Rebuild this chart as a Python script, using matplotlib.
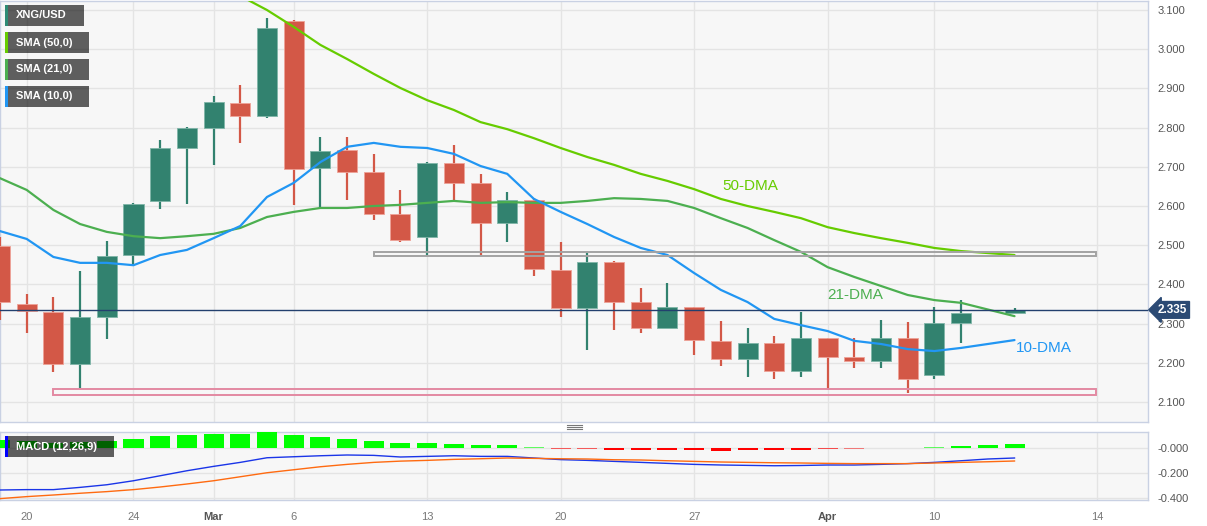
import numpy as np
import matplotlib
matplotlib.use("Agg")
import matplotlib.pyplot as plt
from matplotlib.patches import Rectangle
from matplotlib.lines import Line2D

plt.rcParams['font.family'] = ['Liberation Sans', 'DejaVu Sans']

# trading days (Apr 7 closed), candle for Apr 12 missing on the chart
dates = ['Feb 17', 'Feb 20', 'Feb 21', 'Feb 22', 'Feb 23', 'Feb 24', 'Feb 27', 'Feb 28',
         'Mar 1', 'Mar 2', 'Mar 3', 'Mar 6', 'Mar 7', 'Mar 8', 'Mar 9', 'Mar 10',
         'Mar 13', 'Mar 14', 'Mar 15', 'Mar 16', 'Mar 17', 'Mar 20', 'Mar 21', 'Mar 22',
         'Mar 23', 'Mar 24', 'Mar 27', 'Mar 28', 'Mar 29', 'Mar 30', 'Mar 31',
         'Apr 3', 'Apr 4', 'Apr 5', 'Apr 6', 'Apr 10', 'Apr 11', 'Apr 12', 'Apr 13']

opens = [2.498, 2.350, 2.330, 2.197, 2.317, 2.475, 2.613, 2.748, 2.799, 2.863, 2.829, 3.072,
         2.696, 2.743, 2.687, 2.580, 2.521, 2.710, 2.659, 2.557, 2.615, 2.437, 2.340, 2.457,
         2.355, 2.289, 2.342, 2.256, 2.210, 2.251, 2.179, 2.263, 2.215, 2.205, 2.263, 2.169,
         2.302, None, 2.327]
highs = [2.521, 2.376, 2.368, 2.434, 2.511, 2.608, 2.768, 2.802, 2.881, 2.909, 3.080, 3.075,
         2.776, 2.776, 2.733, 2.641, 2.712, 2.756, 2.682, 2.636, 2.620, 2.508, 2.480, 2.460,
         2.391, 2.404, 2.342, 2.307, 2.289, 2.268, 2.330, 2.263, 2.263, 2.309, 2.304, 2.342,
         2.360, None, 2.340]
lows = [2.309, 2.276, 2.177, 2.136, 2.261, 2.449, 2.592, 2.605, 2.705, 2.760, 2.824, 2.603,
        2.595, 2.615, 2.564, 2.508, 2.475, 2.615, 2.475, 2.508, 2.421, 2.317, 2.233, 2.284,
        2.276, 2.289, 2.220, 2.192, 2.164, 2.159, 2.164, 2.131, 2.187, 2.187, 2.123, 2.159,
        2.251, None, 2.327]
closes = [2.355, 2.332, 2.197, 2.317, 2.472, 2.605, 2.748, 2.799, 2.865, 2.829, 3.054, 2.694,
          2.740, 2.687, 2.580, 2.513, 2.710, 2.659, 2.557, 2.615, 2.439, 2.340, 2.457, 2.355,
          2.289, 2.342, 2.258, 2.210, 2.251, 2.179, 2.263, 2.215, 2.205, 2.263, 2.159, 2.302,
          2.327, None, 2.335]

sma50 = [None] * 8 + [3.171, 3.136, 3.100, 3.057, 3.011, 2.975, 2.937, 2.901, 2.870, 2.845,
                      2.814, 2.796, 2.773, 2.748, 2.725, 2.705, 2.682, 2.664, 2.643, 2.618,
                      2.600, 2.585, 2.569, 2.546, 2.531, 2.518, 2.506, 2.493, 2.485, None, 2.475]
sma21 = [2.671, 2.641, 2.590, 2.554, 2.534, 2.523, 2.518, 2.523, 2.529, 2.544, 2.572, 2.585,
         2.595, 2.595, 2.600, 2.603, 2.608, 2.613, 2.608, 2.610, 2.608, 2.608, 2.613, 2.620,
         2.618, 2.613, 2.595, 2.569, 2.544, 2.513, 2.483, 2.444, 2.419, 2.396, 2.373, 2.360,
         2.353, None, 2.319]
sma10 = [2.536, 2.516, 2.470, 2.455, 2.455, 2.449, 2.475, 2.488, 2.518, 2.549, 2.623, 2.659,
         2.712, 2.751, 2.761, 2.751, 2.748, 2.733, 2.702, 2.682, 2.618, 2.585, 2.554, 2.521,
         2.493, 2.475, 2.429, 2.386, 2.355, 2.312, 2.296, 2.281, 2.256, 2.248, 2.235, 2.230,
         2.238, None, 2.258]

macd_hist = [0.066, 0.055, 0.043, 0.047, 0.053, 0.072, 0.093, 0.104, 0.115, 0.115, 0.125,
             0.104, 0.091, 0.075, 0.056, 0.040, 0.040, 0.035, 0.027, 0.021, 0.009, -0.009,
             -0.009, -0.016, -0.019, -0.019, -0.019, -0.026, -0.019, -0.019, -0.016, -0.010,
             -0.007, -0.002, -0.002, 0.009, 0.018, 0.024, 0.030]
macd_line = [-0.336, -0.333, -0.333, -0.315, -0.294, -0.262, -0.222, -0.182, -0.147, -0.115,
             -0.078, -0.070, -0.062, -0.056, -0.059, -0.072, -0.067, -0.062, -0.067, -0.067,
             -0.080, -0.093, -0.099, -0.107, -0.115, -0.123, -0.131, -0.136, -0.139, -0.142,
             -0.140, -0.136, -0.136, -0.131, -0.125, -0.115, -0.102, -0.088, -0.080]
signal_line = [-0.405, -0.389, -0.376, -0.362, -0.349, -0.333, -0.312, -0.288, -0.262, -0.230,
               -0.198, -0.174, -0.150, -0.131, -0.115, -0.105, -0.099, -0.091, -0.086, -0.080,
               -0.083, -0.086, -0.088, -0.094, -0.096, -0.102, -0.107, -0.112, -0.115, -0.118,
               -0.120, -0.123, -0.125, -0.125, -0.125, -0.120, -0.115, -0.110, -0.104]

last_price = 2.335
resistance_zone = (2.4735, 2.4835)
resistance_from = 'Mar 9'
support_zone = (2.119, 2.134)
support_from = 'Feb 21'
zone_end = 41.05

tick_pos = [1, 5, 8, 11, 16, 21, 26, 31, 35, 41.1]
tick_labels = ['20', '24', 'Mar', '6', '13', '20', '27', 'Apr', '10', '14']
price_ticks = [2.1, 2.2, 2.3, 2.4, 2.5, 2.6, 2.7, 2.8, 2.9, 3.0, 3.1]

GREEN = '#32826f'
RED = '#d35847'
GRID = '#e4e4e4'
SPINE = '#c9d1e3'
W, H = 1207, 526

x = np.arange(len(dates))
o = np.array(opens, dtype=float)
h = np.array(highs, dtype=float)
l = np.array(lows, dtype=float)
c = np.array(closes, dtype=float)
ok = ~np.isnan(o)

fig = plt.figure(figsize=(W / 100, H / 100), dpi=100)
fig.patch.set_facecolor('white')
ax = fig.add_axes([0, (H - 422) / H, 1148 / W, 421 / H])
ax2 = fig.add_axes([0, (H - 500) / H, 1148 / W, 68 / H])

for a in (ax, ax2):
    a.set_facecolor('#f7f7f7')
    for s in a.spines.values():
        s.set_color(SPINE)
        s.set_linewidth(1)
    a.set_xlim(0, 43.0)
    a.set_xticks(tick_pos)
    a.grid(True, color=GRID, lw=1)
    a.set_axisbelow(True)
    a.yaxis.tick_right()
    a.tick_params(length=0, labelsize=8, labelcolor='#555555', pad=7)

# candles
up = ok & (c >= o)
dn = ok & (c < o)
ax.vlines(x[up], l[up], h[up], color=GREEN, lw=1.6, zorder=3)
ax.vlines(x[dn], l[dn], h[dn], color=RED, lw=1.6, zorder=3)
ax.bar(x[up], (c - o)[up], bottom=o[up], width=0.75, color=GREEN,
       edgecolor='#7fb5a8', lw=0.6, zorder=4)
ax.bar(x[dn], (o - c)[dn], bottom=c[dn], width=0.75, color=RED,
       edgecolor='#eea297', lw=0.6, zorder=4)

for vals, col in ((sma50, '#66cc00'), (sma21, '#4caf50'), (sma10, '#2196f3')):
    v = np.array(vals, dtype=float)
    m = ~np.isnan(v)
    ax.plot(x[m], v[m], color=col, lw=1.6, zorder=5, solid_capstyle='round')

# zones
i0 = dates.index(resistance_from)
ax.add_patch(Rectangle((i0, resistance_zone[0]), zone_end - i0,
                       resistance_zone[1] - resistance_zone[0], fill=False,
                       ec='#a3a3a3', lw=1.4, zorder=6))
i1 = dates.index(support_from)
ax.add_patch(Rectangle((i1, support_zone[0]), zone_end - i1,
                       support_zone[1] - support_zone[0], fill=False,
                       ec='#e38aa2', lw=1.4, zorder=6))

ax.axhline(last_price, color='#23406e', lw=1, zorder=6)

ax.set_ylim(2.049, 3.123)
ax.set_yticks(price_ticks)
ax.set_yticklabels([f'{p:.3f}' for p in price_ticks])
ax.tick_params(axis='x', labelbottom=False)

ax.annotate(f'{last_price:.3f}', xy=(1.0, last_price), xycoords=('axes fraction', 'data'),
            xytext=(7, 0), textcoords='offset points', ha='left', va='center',
            color='white', fontsize=8.5, fontweight='bold', zorder=10,
            annotation_clip=False,
            bbox=dict(boxstyle='larrow,pad=0.2', fc='#2b4a74', ec='#2b4a74'))

ax.text(27.05, 2.651, '50-DMA', color='#66cc00', fontsize=11, va='center', zorder=7)
ax.text(31.0, 2.373, '21-DMA', color='#4caf50', fontsize=11, va='center', zorder=7)
ax.text(38.05, 2.238, '10-DMA', color='#2196f3', fontsize=11, va='center', zorder=7)

# MACD panel
hv = np.array(macd_hist)
alphas = np.clip(np.abs(hv) / 0.015, 0.12, 1.0)
for xi, v, al in zip(x, hv, alphas):
    ax2.bar(xi, v, width=0.75, color='#00ff00' if v >= 0 else '#ff0000',
            alpha=al, lw=0, zorder=3)
ax2.plot(x, macd_line, color='#1a35e8', lw=1.0, zorder=4)
ax2.plot(x, signal_line, color='#ff6a10', lw=1.0, zorder=4)
ax2.set_ylim(-0.416, 0.128)
ax2.set_yticks([0.0, -0.2, -0.4])
ax2.set_yticklabels(['-0.000', '-0.200', '-0.400'])
ax2.set_xticklabels(tick_labels)
ax2.tick_params(axis='x', labelcolor='#777777', labelsize=8, pad=9)
for lab in ax2.get_xticklabels():
    if lab.get_text() in ('Mar', 'Apr'):
        lab.set_fontweight('bold')
        lab.set_color('#555555')


def legend_box(x0, y0, w, h, label, col):
    fig.add_artist(Rectangle((x0 / W, 1 - (y0 + h) / H), w / W, h / H,
                             transform=fig.transFigure, fc='black', alpha=0.62,
                             lw=0, zorder=20))
    fig.add_artist(Rectangle((x0 / W, 1 - (y0 + h) / H), 2.5 / W, h / H,
                             transform=fig.transFigure, fc=col, lw=0, zorder=21))
    fig.text((x0 + 11) / W, 1 - (y0 + h / 2) / H, label, color='white',
             fontsize=8, fontweight='bold', va='center', ha='left', zorder=22)


legend_box(5, 5, 79, 21, 'XNG/USD', '#2e8b74')
legend_box(5, 32, 84, 21, 'SMA (50,0)', '#66cc00')
legend_box(5, 59, 84, 21, 'SMA (21,0)', '#4caf50')
legend_box(5, 86, 84, 21, 'SMA (10,0)', '#2196f3')
legend_box(5, 436, 109, 21, 'MACD (12,26,9)', '#0000ff')

# panel separator handle
for dy in (-2, 0, 2):
    fig.add_artist(Line2D([567 / W, 582 / W], [1 - (427 + dy) / H] * 2,
                          transform=fig.transFigure, color='#777777', lw=0.8))

fig.savefig('out.png', dpi=100)
